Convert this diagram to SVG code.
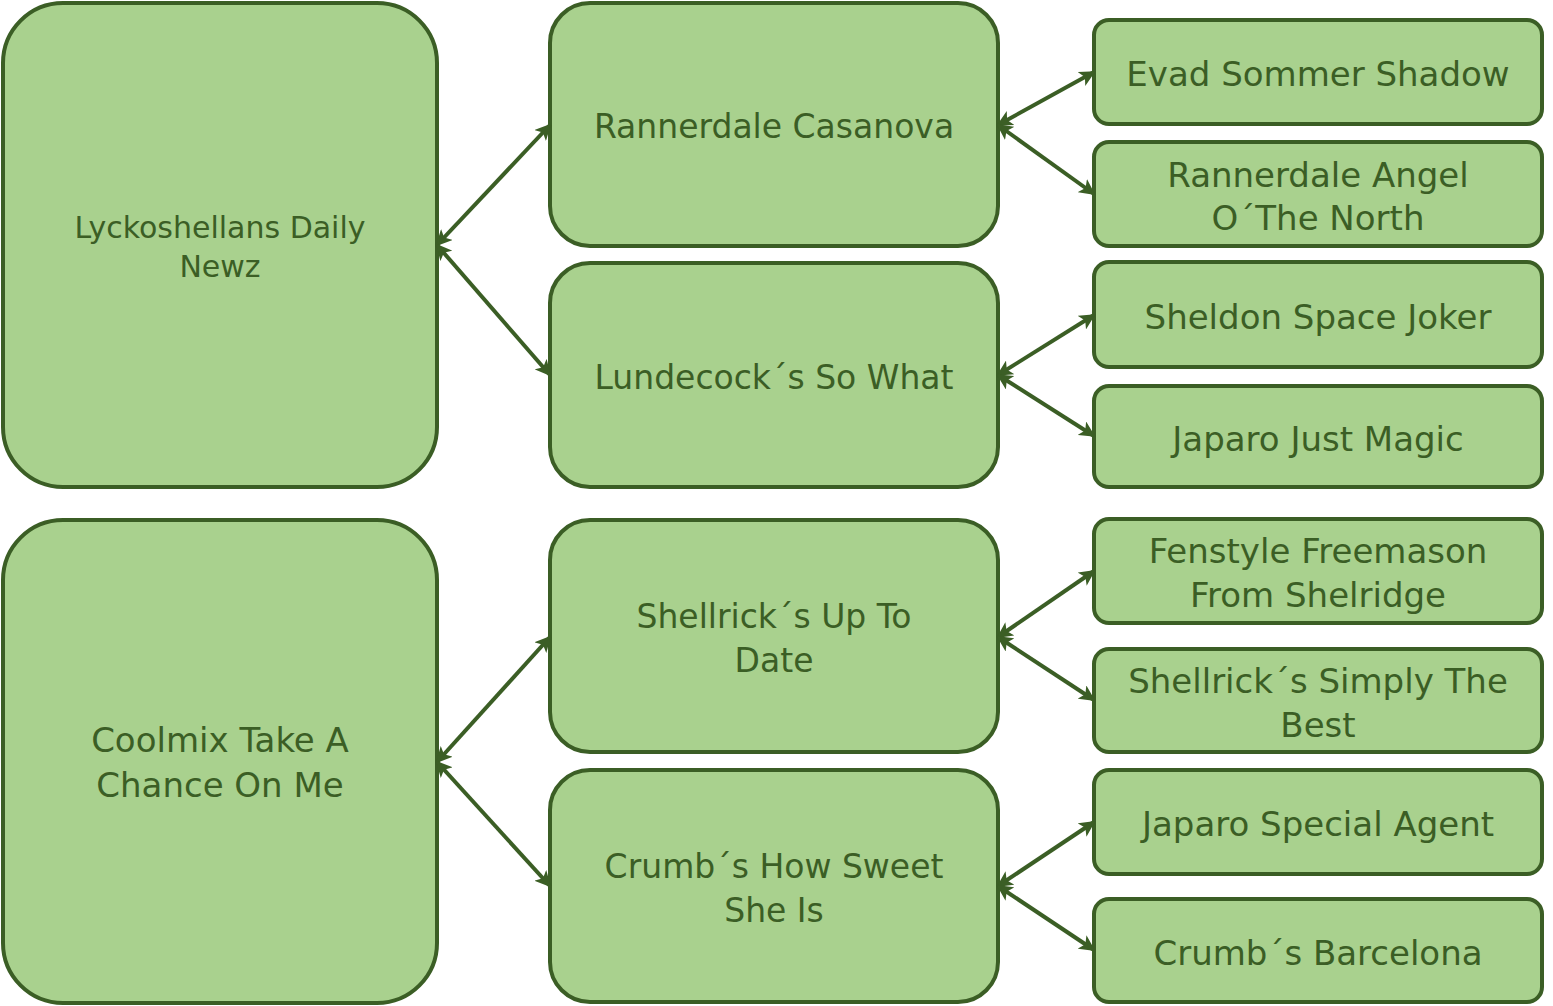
<svg xmlns="http://www.w3.org/2000/svg" width="1553" height="1006" viewBox="0 0 1553 1006">
<defs>
<marker id="ah" viewBox="0 0 10 10" refX="9" refY="5" markerWidth="4" markerHeight="4" orient="auto-start-reverse" markerUnits="strokeWidth">
<path d="M0,0 L10,5 L0,10 L2.5,5 Z" fill="#3b5e25"/>
</marker>
</defs>
<style>
.n rect{fill:#a9d18e;stroke:#3b5e25;stroke-width:4}
.n text{fill:#3b5e25;font-family:"DejaVu Sans","Liberation Sans",sans-serif;text-anchor:middle;font-size:33px}
.n text.s{font-size:30px}
.n text.r{font-size:34px}
.c line{stroke:#3b5e25;stroke-width:4;marker-start:url(#ah);marker-end:url(#ah)}
</style>
<rect width="1553" height="1006" fill="#ffffff"/>
<g id="lyckoshellans" class="n"><rect x="3" y="3" width="434" height="484" rx="60"/><text class="s" x="220" y="238">Lyckoshellans Daily</text><text class="s" x="220" y="277">Newz</text></g>
<g id="coolmix" class="n"><rect x="3" y="520" width="434" height="483" rx="60"/><text class="r" x="220" y="752">Coolmix Take A</text><text class="r" x="220" y="797">Chance On Me</text></g>
<g id="rannerdale-casanova" class="n"><rect x="550" y="3" width="448" height="243" rx="40"/><text x="774" y="138">Rannerdale Casanova</text></g>
<g id="lundecock" class="n"><rect x="550" y="263" width="448" height="224" rx="40"/><text x="774" y="389">Lundecock´s So What</text></g>
<g id="shellrick-up" class="n"><rect x="550" y="520" width="448" height="232" rx="40"/><text x="774" y="628">Shellrick´s Up To</text><text x="774" y="672">Date</text></g>
<g id="crumb-sweet" class="n"><rect x="550" y="770" width="448" height="232" rx="40"/><text x="774" y="878">Crumb´s How Sweet</text><text x="774" y="922">She Is</text></g>
<g id="evad" class="n"><rect x="1094" y="20" width="448" height="104" rx="15"/><text class="r" x="1318" y="86">Evad Sommer Shadow</text></g>
<g id="rannerdale-angel" class="n"><rect x="1094" y="142" width="448" height="104" rx="15"/><text class="r" x="1318" y="187">Rannerdale Angel</text><text class="r" x="1318" y="230">O´The North</text></g>
<g id="sheldon" class="n"><rect x="1094" y="262" width="448" height="105" rx="15"/><text class="r" x="1318" y="329">Sheldon Space Joker</text></g>
<g id="japaro-magic" class="n"><rect x="1094" y="386" width="448" height="101" rx="15"/><text class="r" x="1318" y="451">Japaro Just Magic</text></g>
<g id="fenstyle" class="n"><rect x="1094" y="519" width="448" height="104" rx="15"/><text class="r" x="1318" y="563">Fenstyle Freemason</text><text class="r" x="1318" y="607">From Shelridge</text></g>
<g id="shellrick-simply" class="n"><rect x="1094" y="649" width="448" height="103" rx="15"/><text class="r" x="1318" y="693">Shellrick´s Simply The</text><text class="r" x="1318" y="737">Best</text></g>
<g id="japaro-agent" class="n"><rect x="1094" y="770" width="448" height="104" rx="15"/><text class="r" x="1318" y="836">Japaro Special Agent</text></g>
<g id="crumb-barcelona" class="n"><rect x="1094" y="899" width="448" height="103" rx="15"/><text class="r" x="1318" y="965">Crumb´s Barcelona</text></g>
<g id="connectors" class="c">
<line x1="437" y1="245" x2="550" y2="125"/>
<line x1="437" y1="245" x2="550" y2="375"/>
<line x1="998" y1="125" x2="1094" y2="72"/>
<line x1="998" y1="125" x2="1094" y2="194"/>
<line x1="998" y1="375" x2="1094" y2="315"/>
<line x1="998" y1="375" x2="1094" y2="436"/>
<line x1="437" y1="762" x2="550" y2="637"/>
<line x1="437" y1="762" x2="550" y2="886"/>
<line x1="998" y1="637" x2="1094" y2="571"/>
<line x1="998" y1="637" x2="1094" y2="700"/>
<line x1="998" y1="886" x2="1094" y2="822"/>
<line x1="998" y1="886" x2="1094" y2="950"/>
</g>
</svg>
